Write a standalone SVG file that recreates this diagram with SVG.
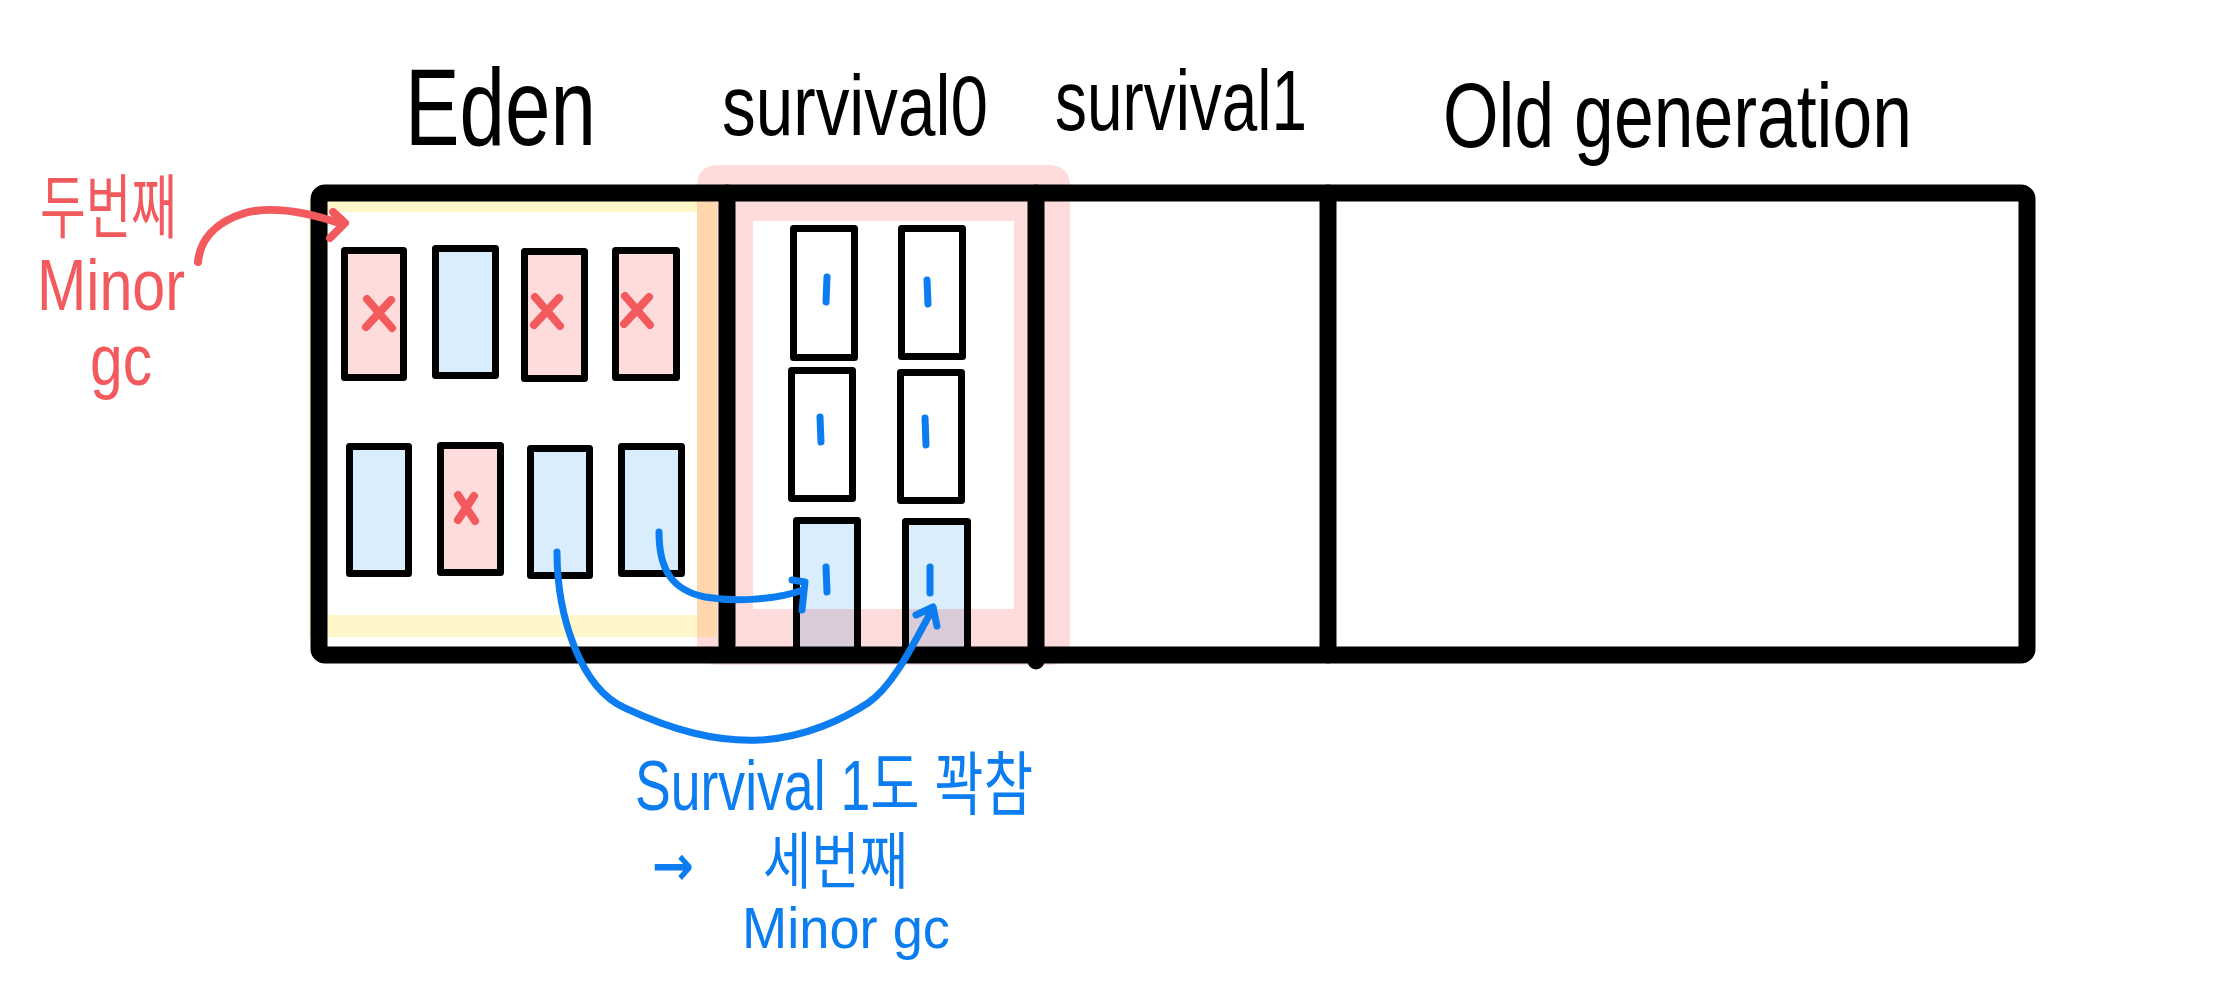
<svg xmlns="http://www.w3.org/2000/svg" width="2230" height="1000" viewBox="0 0 2230 1000">
<style>
.title{font-family:"Liberation Sans","Noto Sans",sans-serif;fill:#000;}
.red{font-family:"Liberation Sans","Noto Sans CJK KR",sans-serif;fill:#F25A5E;}
.blue{font-family:"Liberation Sans","Noto Sans CJK KR",sans-serif;fill:#0B7DF0;}
.arrow{font-family:"DejaVu Sans",sans-serif;fill:#0B7DF0;font-weight:bold;}
.frame{fill:none;stroke:#000;stroke-width:17;stroke-linecap:round;stroke-linejoin:round;}
.obj{stroke:#000;stroke-width:7;stroke-linejoin:round;}
.dead{fill:#FFDCDC;}
.live{fill:#DAEDFD;}
.empty{fill:#FFFFFF;}
.over{fill:#DACBD9;}
.x{fill:none;stroke:#F25A5E;stroke-width:8;stroke-linecap:round;}
.one{fill:none;stroke:#0B7DF0;stroke-width:7;stroke-linecap:round;}
.redline{fill:none;stroke:#F25A5E;stroke-width:8;stroke-linecap:round;stroke-linejoin:round;}
.blueline{fill:none;stroke:#0B7DF0;stroke-width:7;stroke-linecap:round;stroke-linejoin:round;}
</style>
<rect x="0" y="0" width="2230" height="1000" fill="#FFFFFF"/>

<g id="highlights">
  <path d="M309,200 H717 V637 H309 Z M328,212 V615 H697 V212 Z" fill="#FFF7C9" fill-rule="evenodd"/>
  <path d="M719,165 H1048 Q1070,165 1070,187 V643 Q1070,665 1048,665 H719 Q697,665 697,643 V187 Q697,165 719,165 Z M753,221 V609 H1014 V221 Z" fill="#FFDCDC" fill-rule="evenodd"/>
  <rect x="697" y="200" width="20" height="437" fill="#FFD6AE"/>
</g>

<g id="titles">
  <text id="t-eden" class="title" x="405" y="145" font-size="110" textLength="191" lengthAdjust="spacingAndGlyphs">Eden</text>
  <text id="t-s0" class="title" x="722" y="135" font-size="85" textLength="266" lengthAdjust="spacingAndGlyphs">survival0</text>
  <text id="t-s1" class="title" x="1055" y="130" font-size="85" textLength="252" lengthAdjust="spacingAndGlyphs">survival1</text>
  <text id="t-old" class="title" x="1443" y="147" font-size="90" textLength="469" lengthAdjust="spacingAndGlyphs">Old generation</text>
</g>

<g id="eden-obj-1"><rect class="obj dead" x="344.5" y="250.5" width="59" height="127"/><path class="x" d="M367,299 L392,328 M391,300 L366,327"/></g>
<g id="eden-obj-2"><rect class="obj live" x="435.5" y="248.5" width="60" height="127"/></g>
<g id="eden-obj-3"><rect class="obj dead" x="524.5" y="251.5" width="60" height="127"/><path class="x" d="M535,297 L560,326 M559,298 L534,325"/></g>
<g id="eden-obj-4"><rect class="obj dead" x="615.5" y="250.5" width="61" height="127"/><path class="x" d="M625,296 L650,325 M649,297 L624,324"/></g>
<g id="eden-obj-5"><rect class="obj live" x="349.5" y="446.5" width="59" height="127"/></g>
<g id="eden-obj-6"><rect class="obj dead" x="440.5" y="445.5" width="60" height="127"/><path class="x" d="M458,495 L475,521 M474,496 L458,520"/></g>
<g id="eden-obj-7"><rect class="obj live" x="530.5" y="448.5" width="59" height="127"/></g>
<g id="eden-obj-8"><rect class="obj live" x="621.5" y="446.5" width="60" height="127"/></g>

<g id="s0-obj-1"><rect class="obj empty" x="793.5" y="228.5" width="61" height="129"/><path class="one" d="M827,277 L826,302"/></g>
<g id="s0-obj-2"><rect class="obj empty" x="901.5" y="228.5" width="61" height="128"/><path class="one" d="M927,280 L928,304"/></g>
<g id="s0-obj-3"><rect class="obj empty" x="791.5" y="370.5" width="61" height="128"/><path class="one" d="M820,417 L821,442"/></g>
<g id="s0-obj-4"><rect class="obj empty" x="900.5" y="372.5" width="61" height="128"/><path class="one" d="M925,418 L926,445"/></g>
<g id="s0-obj-5"><rect class="live" x="796.5" y="520.5" width="61" height="130"/><rect class="over" x="796.5" y="609" width="61" height="41"/><rect class="obj" fill="none" x="796.5" y="520.5" width="61" height="130"/><path class="one" d="M826,567 L827,592"/></g>
<g id="s0-obj-6"><rect class="live" x="905.5" y="521.5" width="62" height="129"/><rect class="over" x="905.5" y="609" width="62" height="41"/><rect class="obj" fill="none" x="905.5" y="521.5" width="62" height="129"/><path class="one" d="M930,567 L930,593"/></g>

<g id="heap-frame">
  <rect class="frame" x="319" y="193" width="1708" height="462" rx="6"/>
  <line class="frame" x1="727" y1="193" x2="727" y2="645"/>
  <line class="frame" x1="1036" y1="193" x2="1036" y2="661"/>
  <line class="frame" x1="1328" y1="193" x2="1328" y2="655"/>
</g>

<g id="connectors">
  <path class="redline" d="M198,262 C200,240 215,222 245,213 C275,205 310,213 342,224"/>
  <path class="redline" d="M333,212 L345,223 L330,238"/>
  <path class="blueline" d="M659,532 C659,570 672,590 705,597 C735,602 775,600 803,590"/>
  <path class="blueline" d="M792,580 L805,582 L802,610"/>
  <path class="blueline" d="M557,552 C557,615 580,688 625,708 C672,730 715,742 760,740 C805,738 845,718 868,703 C893,686 913,645 933,608"/>
  <path class="blueline" d="M916,615 L933,607 L937,626"/>
</g>

<g id="note-second">
  <text class="red" x="40" y="233" font-size="70" textLength="137" lengthAdjust="spacingAndGlyphs">두번째</text>
  <text class="red" x="37" y="310" font-size="72" textLength="148" lengthAdjust="spacingAndGlyphs">Minor</text>
  <text class="red" x="90" y="385" font-size="72" textLength="62" lengthAdjust="spacingAndGlyphs">gc</text>
</g>

<g id="note-third">
  <text class="blue" x="635" y="810" font-size="70" textLength="398" lengthAdjust="spacingAndGlyphs">Survival 1도 꽉참</text>
  <text class="arrow" x="652" y="885" font-size="56" textLength="42" lengthAdjust="spacingAndGlyphs">→</text>
  <text class="blue" x="763" y="884" font-size="62" textLength="145" lengthAdjust="spacingAndGlyphs">세번째</text>
  <text class="blue" x="742" y="948" font-size="57" textLength="208" lengthAdjust="spacingAndGlyphs">Minor gc</text>
</g>
</svg>
